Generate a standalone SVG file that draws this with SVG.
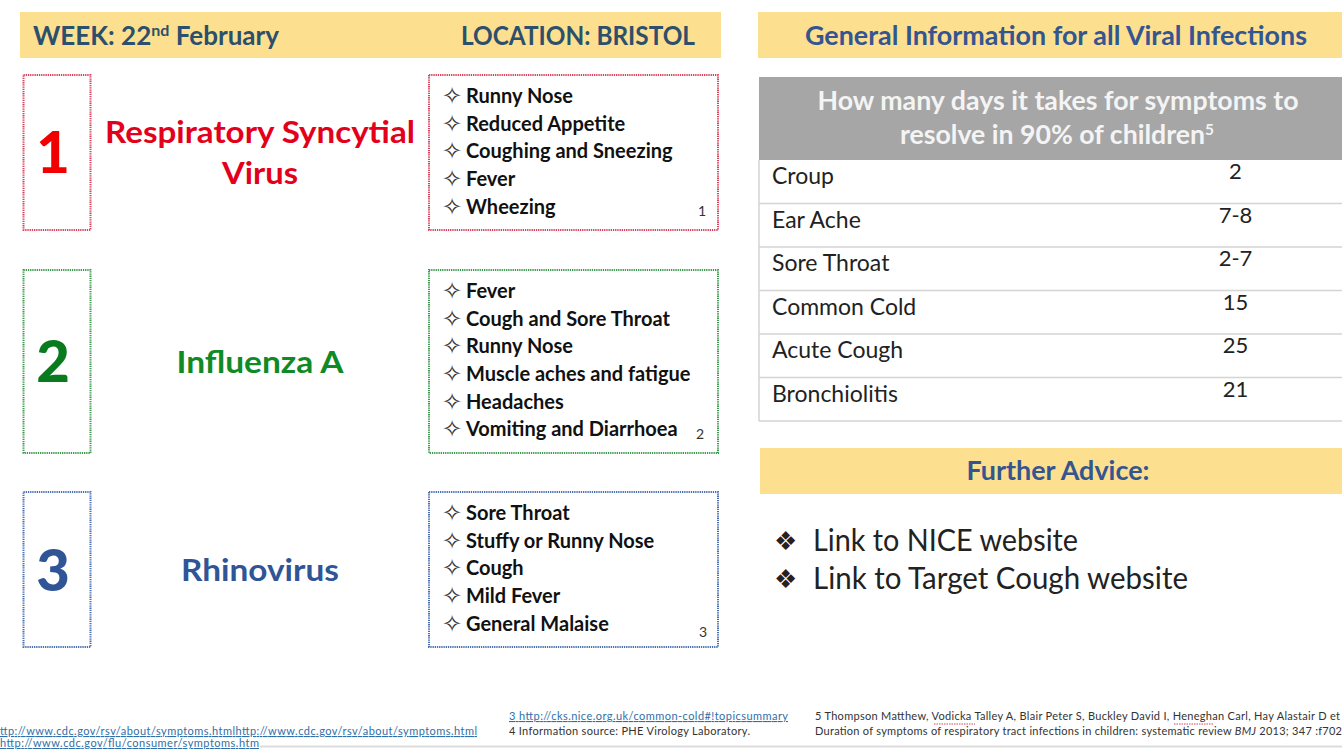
<svg xmlns="http://www.w3.org/2000/svg" width="1342" height="749" viewBox="0 0 1342 749">
<style>
text{font-family:"Lato","Liberation Sans",sans-serif}
.band{fill:#fddf90}
.hd{font-size:26px;font-weight:700;fill:#2c4f6b}
.hb{font-size:26px;font-weight:700;fill:#34558f}
.num{font-size:58px;font-weight:900;text-anchor:middle}
.name{font-size:31px;font-weight:700;text-anchor:middle}
.li{font-size:20px;font-weight:700;fill:#111}
.bu{font-size:24px;fill:#333;font-family:"DejaVu Sans",sans-serif}
.sm{font-size:14px;fill:#333}
.box{fill:none;stroke-width:2;stroke-dasharray:1.3 .9}
.r{stroke:#d8425a}.g{stroke:#3f9a4f}.b{stroke:#4a6fb0}
.row{font-size:23px;fill:#222}
.val{font-size:22px;fill:#222;text-anchor:middle}
.rule{stroke:#d4d4d4;stroke-width:1.5}
.link{font-size:11px;fill:#2f6fa8;text-decoration:underline}
.note{font-size:11px;fill:#333}
.adv{font-size:30px;fill:#222}
.advb{font-size:26px;fill:#222;font-family:"DejaVu Sans",sans-serif}
.sq{stroke:#d8425a;stroke-width:1;stroke-dasharray:1.5 1}
</style>
<g id="header-left">
<rect class="band" x="20" y="12" width="701" height="46"/>
<text class="hd" x="33" y="45" textLength="246" lengthAdjust="spacingAndGlyphs">WEEK: 22<tspan font-size="16" dy="-9">nd</tspan><tspan dy="9"> February</tspan></text>
<text class="hd" x="461" y="45" textLength="234" lengthAdjust="spacingAndGlyphs">LOCATION: BRISTOL</text>
</g>
<g id="header-right">
<rect class="band" x="758" y="12" width="584" height="46"/>
<text class="hb" x="805" y="45" textLength="502" lengthAdjust="spacingAndGlyphs">General Information for all Viral Infections</text>
</g>
<g id="virus-1">
<rect class="box r" x="23.500" y="75" width="67" height="155"/>
<text class="num" x="53" y="173" fill="#f00000">1</text>
<text class="name" x="260" y="143" fill="#e3001b" textLength="310" lengthAdjust="spacingAndGlyphs">Respiratory Syncytial</text>
<text class="name" x="260" y="184" fill="#e3001b" textLength="76" lengthAdjust="spacingAndGlyphs">Virus</text>
<rect class="box r" x="429" y="75" width="289" height="155"/>
<text class="bu" x="442" y="104">✧</text><text class="li" x="466" y="103">Runny Nose</text>
<text class="bu" x="442" y="132">✧</text><text class="li" x="466" y="131">Reduced Appetite</text>
<text class="bu" x="442" y="159">✧</text><text class="li" x="466" y="158">Coughing and Sneezing</text>
<text class="bu" x="442" y="187">✧</text><text class="li" x="466" y="186">Fever</text>
<text class="bu" x="442" y="215">✧</text><text class="li" x="466" y="214">Wheezing</text>
<text class="sm" x="698" y="216">1</text>
</g>
<g id="virus-2">
<rect class="box g" x="23.500" y="270" width="67" height="183"/>
<text class="num" x="53" y="382" fill="#0a7a1f">2</text>
<text class="name" x="260" y="373" fill="#0f8a25" textLength="167" lengthAdjust="spacingAndGlyphs">Influenza A</text>
<rect class="box g" x="429" y="270" width="289" height="183"/>
<text class="bu" x="442" y="299">✧</text><text class="li" x="466" y="298">Fever</text>
<text class="bu" x="442" y="327">✧</text><text class="li" x="466" y="326">Cough and Sore Throat</text>
<text class="bu" x="442" y="354">✧</text><text class="li" x="466" y="353">Runny Nose</text>
<text class="bu" x="442" y="382">✧</text><text class="li" x="466" y="381">Muscle aches and fatigue</text>
<text class="bu" x="442" y="410">✧</text><text class="li" x="466" y="409">Headaches</text>
<text class="bu" x="442" y="437">✧</text><text class="li" x="466" y="436">Vomiting and Diarrhoea</text>
<text class="sm" x="696" y="439">2</text>
</g>
<g id="virus-3">
<rect class="box b" x="23.500" y="492" width="67" height="155"/>
<text class="num" x="53" y="591" fill="#2f5597">3</text>
<text class="name" x="260" y="581" fill="#2f5597" textLength="158" lengthAdjust="spacingAndGlyphs">Rhinovirus</text>
<rect class="box b" x="429" y="492" width="289" height="155"/>
<text class="bu" x="442" y="521">✧</text><text class="li" x="466" y="520">Sore Throat</text>
<text class="bu" x="442" y="549">✧</text><text class="li" x="466" y="548">Stuffy or Runny Nose</text>
<text class="bu" x="442" y="576">✧</text><text class="li" x="466" y="575">Cough</text>
<text class="bu" x="442" y="604">✧</text><text class="li" x="466" y="603">Mild Fever</text>
<text class="bu" x="442" y="632">✧</text><text class="li" x="466" y="631">General Malaise</text>
<text class="sm" x="699" y="637">3</text>
</g>
<g id="days-table">
<rect x="759" y="77" width="583" height="83" fill="#a6a6a6"/>
<text x="1058" y="110" font-size="26" font-weight="700" fill="#f4f4f4" text-anchor="middle" textLength="481" lengthAdjust="spacingAndGlyphs">How many days it takes for symptoms to</text>
<text x="1057" y="144" font-size="26" font-weight="700" fill="#f4f4f4" text-anchor="middle" textLength="314" lengthAdjust="spacingAndGlyphs">resolve in 90% of children<tspan font-size="15" dy="-9">5</tspan></text>
<path class="rule" fill="none" d="M759 160V421M759 203.500H1342M759 247H1342M759 290.500H1342M759 334H1342M759 377.500H1342M759 421H1342"/>
<text class="row" x="772" y="184">Croup</text><text class="val" x="1235.500" y="179">2</text>
<text class="row" x="772" y="228">Ear Ache</text><text class="val" x="1235.500" y="223">7-8</text>
<text class="row" x="772" y="271">Sore Throat</text><text class="val" x="1235.500" y="266">2-7</text>
<text class="row" x="772" y="315">Common Cold</text><text class="val" x="1235.500" y="310">15</text>
<text class="row" x="772" y="358">Acute Cough</text><text class="val" x="1235.500" y="353">25</text>
<text class="row" x="772" y="402">Bronchiolitis</text><text class="val" x="1235.500" y="397">21</text>
</g>
<g id="further-advice">
<rect class="band" x="760" y="448" width="582" height="46"/>
<text class="hb" x="1058" y="480" text-anchor="middle" textLength="183" lengthAdjust="spacingAndGlyphs">Further Advice:</text>
<text class="advb" x="774" y="550">❖</text><text class="adv" x="813" y="551" textLength="265" lengthAdjust="spacingAndGlyphs">Link to NICE website</text>
<text class="advb" x="774" y="588">❖</text><text class="adv" x="813" y="589" textLength="375" lengthAdjust="spacingAndGlyphs">Link to Target Cough website</text>
</g>
<g id="footnotes">
<text class="link" x="0" y="735" textLength="477">ttp://www.cdc.gov/rsv/about/symptoms.htmlhttp://www.cdc.gov/rsv/about/symptoms.html</text>
<text class="link" x="0" y="747" textLength="259">http://www.cdc.gov/flu/consumer/symptoms.htm</text>
<text class="link" x="509" y="720" textLength="279">3 http://cks.nice.org.uk/common-cold#!topicsummary</text>
<text class="note" x="509" y="735" textLength="241">4 Information source: PHE Virology Laboratory.</text>
<text class="note" x="815" y="720" textLength="525">5 Thompson Matthew, Vodicka Talley A, Blair Peter S, Buckley David I, Heneghan Carl, Hay Alastair D et</text>
<text class="note" x="815" y="735" textLength="527">Duration of symptoms of respiratory tract infections in children: systematic review <tspan font-style="italic">BMJ</tspan> 2013; 347 :f702</text>
<path class="sq" d="M934 724H975M1174 724H1214"/>
<path d="M260 746.500H1342" stroke="#dcdcdc" stroke-width="2"/>
</g>
</svg>
